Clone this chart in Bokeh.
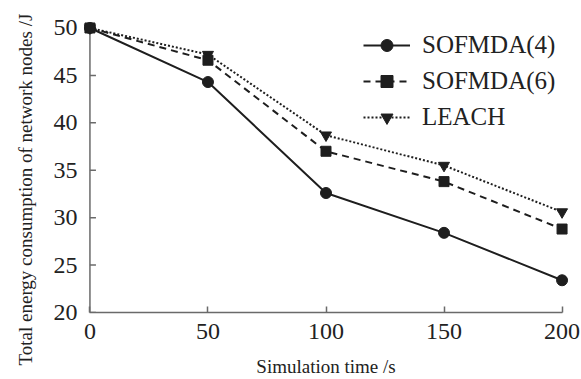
from bokeh.plotting import figure
from bokeh.models import Range1d, FixedTicker, Legend, LegendItem, Title
from bokeh.embed import file_html
from bokeh.resources import INLINE

# data
time_s = [0, 50, 100, 150, 200]
sofmda4 = [50, 44.3, 32.6, 28.4, 23.4]
sofmda6 = [50, 46.6, 37.0, 33.8, 28.8]
leach = [50, 47.2, 38.7, 35.5, 30.6]
x_ticks = [0, 50, 100, 150, 200]
y_ticks = [20, 25, 30, 35, 40, 45, 50]

FONT = "Liberation Serif"
INK = "#1e1e1e"
AXC = "#6a6a6a"

p = figure(width=581, height=379,
           min_border_left=80, min_border_right=10, min_border_top=18, min_border_bottom=67,
           output_backend="svg", toolbar_location=None,
           x_range=Range1d(-4, 204), y_range=Range1d(20, 51))
p.outline_line_color = None
p.grid.grid_line_color = None
p.background_fill_color = "white"

for ax in (p.xaxis[0], p.yaxis[0]):
    ax.axis_line_color = AXC
    ax.axis_line_width = 1.5
    ax.major_tick_line_color = AXC
    ax.major_tick_line_width = 1.5
    ax.major_tick_in = 6
    ax.major_tick_out = 0
    ax.minor_tick_line_color = None
    ax.major_label_text_font = FONT
    ax.major_label_text_font_size = "24px"
    ax.major_label_text_color = "#222222"
    ax.axis_label_text_font = FONT
    ax.axis_label_text_font_style = "normal"
    ax.axis_label_text_font_size = "19px"
    ax.axis_label_text_color = "#222222"

p.xaxis.ticker = FixedTicker(ticks=x_ticks)
p.yaxis.ticker = FixedTicker(ticks=y_ticks)
p.xaxis.bounds = (0, 200)
# y axis line/ticks are drawn at x=0 below; the axis itself only carries labels
p.yaxis.axis_line_color = None
p.yaxis.major_tick_line_color = None
p.xaxis.major_label_standoff = 11
p.yaxis.major_label_standoff = 3
p.xaxis.axis_label = "Simulation time /s"
p.xaxis.axis_label_standoff = 14

ytitle = Title(text="Total energy consumption of network nodes /J", align="left",
               vertical_align="top", offset=-53, text_font=FONT, text_font_style="normal",
               text_font_size="19px", text_color="#222222", standoff=26)
p.add_layout(ytitle, "left")

# y axis line at x = 0 and inward ticks
y0, y1 = min(y_ticks), max(y_ticks)
p.segment(x0=[0], y0=[y0], x1=[0], y1=[y1], line_color=AXC, line_width=1.5)
tick_len = 6 / (491 / 208)
p.segment(x0=[0] * len(y_ticks), y0=y_ticks, x1=[tick_len] * len(y_ticks), y1=y_ticks,
          line_color=AXC, line_width=1.5)

lw = 2
r_l_line = p.line(time_s, leach, line_color=INK, line_width=lw, line_dash="2 2")
r_l_pt = p.scatter(time_s, leach, marker="inverted_triangle", size=11, fill_color=INK, line_color=INK)
r4_line = p.line(time_s, sofmda4, line_color=INK, line_width=lw)
r4_pt = p.scatter(time_s, sofmda4, marker="circle", size=11, fill_color=INK, line_color=INK)
r6_line = p.line(time_s, sofmda6, line_color=INK, line_width=lw, line_dash="7 5")
r6_pt = p.scatter(time_s, sofmda6, marker="square", size=10, fill_color=INK, line_color=INK)

legend = Legend(items=[
    LegendItem(label="SOFMDA(4)", renderers=[r4_line, r4_pt]),
    LegendItem(label="SOFMDA(6)", renderers=[r6_line, r6_pt]),
    LegendItem(label="LEACH", renderers=[r_l_line, r_l_pt]),
], location=(283, 180))
legend.border_line_color = None
legend.background_fill_alpha = 0
legend.padding = 0
legend.margin = 0
legend.spacing = 6
legend.glyph_width = 47
legend.glyph_height = 30
legend.label_height = 30
legend.label_standoff = 12
legend.label_text_font = FONT
legend.label_text_font_size = "25px"
legend.label_text_color = "#222222"
p.add_layout(legend)

open("out.html", "w").write(file_html(p, INLINE))
